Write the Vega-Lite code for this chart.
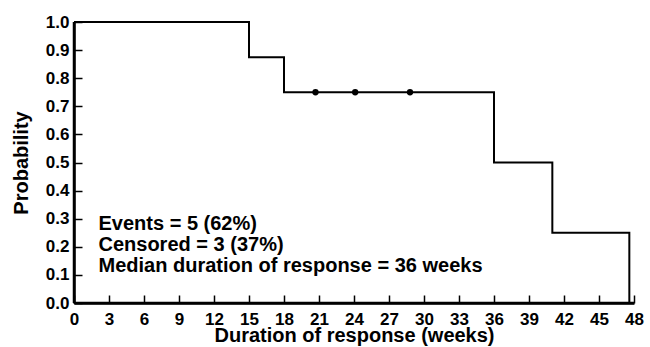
{
  "$schema": "https://vega.github.io/schema/vega-lite/v6.json",
  "width": 560,
  "height": 281,
  "autosize": {"type": "none"},
  "padding": {"left": 74, "top": 22, "right": 16, "bottom": 44},
  "background": "white",
  "config": {
    "view": {"stroke": null},
    "font": "Liberation Sans",
    "axis": {
      "grid": false,
      "domain": false,
      "ticks": true,
      "tickColor": "black",
      "tickWidth": 1.5,
      "tickSize": 8,
      "offset": -8,
      "labelColor": "black",
      "labelFont": "Liberation Sans",
      "labelFontWeight": "bold",
      "labelFontSize": 17,
      "labelOverlap": false,
      "labelFlush": false,
      "titleColor": "black",
      "titleFont": "Liberation Sans",
      "titleFontWeight": "bold",
      "titleFontSize": 20
    }
  },
  "datasets": {
    "km": [
      {"week": 0, "prob": 1.0},
      {"week": 15, "prob": 0.875},
      {"week": 18, "prob": 0.75},
      {"week": 36, "prob": 0.5},
      {"week": 41, "prob": 0.25},
      {"week": 47.6, "prob": 0.0}
    ],
    "censored": [
      {"week": 20.7, "prob": 0.75},
      {"week": 24.1, "prob": 0.75},
      {"week": 28.8, "prob": 0.75}
    ],
    "notes": [
      {"week": 2.1, "prob": 0.281, "label": "Events = 5 (62%)"},
      {"week": 2.1, "prob": 0.206, "label": "Censored = 3 (37%)"},
      {"week": 2.1, "prob": 0.131, "label": "Median duration of response = 36 weeks"}
    ],
    "frame": [
      {"x0": 0, "x1": 48, "y0": 0, "y1": 1}
    ]
  },
  "resolve": {"axis": {"x": "independent", "y": "independent"}},
  "layer": [
    {
      "data": {"name": "km"},
      "mark": {"type": "line", "interpolate": "step-after", "color": "black", "strokeWidth": 2},
      "encoding": {
        "x": {
          "field": "week", "type": "quantitative",
          "scale": {"domain": [0, 48], "nice": false, "zero": true},
          "axis": {
            "orient": "bottom",
            "domain": true,
            "domainColor": "black",
            "domainWidth": 2.5,
            "ticks": false,
            "labels": false,
            "title": null,
            "offset": 0
          }
        },
        "y": {
          "field": "prob", "type": "quantitative",
          "scale": {"domain": [0, 1], "nice": false},
          "axis": {
            "orient": "left",
            "domain": true,
            "domainColor": "black",
            "domainWidth": 2.5,
            "ticks": false,
            "labels": false,
            "title": null,
            "offset": 0
          }
        }
      }
    },
    {
      "data": {"name": "frame"},
      "mark": {"type": "rule", "color": "black", "stroke": "black", "strokeWidth": 2.5},
      "encoding": {
        "x": {"field": "x0", "type": "quantitative", "axis": null},
        "y": {"field": "y0", "type": "quantitative", "axis": null},
        "y2": {"field": "y1"}
      }
    },
    {
      "data": {"name": "frame"},
      "mark": {"type": "rule", "color": "black", "stroke": "black", "strokeWidth": 2.5},
      "encoding": {
        "x": {"field": "x0", "type": "quantitative", "axis": null},
        "x2": {"field": "x1"},
        "y": {"field": "y0", "type": "quantitative", "axis": null}
      }
    },
    {
      "data": {"name": "censored"},
      "mark": {"type": "point", "filled": true, "color": "black", "size": 40, "opacity": 1},
      "encoding": {
        "x": {
          "field": "week", "type": "quantitative",
          "axis": {
            "orient": "bottom",
            "title": "Duration of response (weeks)",
            "values": [0, 3, 6, 9, 12, 15, 18, 21, 24, 27, 30, 33, 36, 39, 42, 45, 48],
            "labelOverlap": false,
            "labelPadding": 8,
            "titlePadding": -2,
            "offset": -8
          }
        },
        "y": {
          "field": "prob", "type": "quantitative",
          "axis": {
            "orient": "left",
            "title": "Probability",
            "values": [0, 0.1, 0.2, 0.3, 0.4, 0.5, 0.6, 0.7, 0.8, 0.9, 1.0],
            "format": ".1f",
            "labelOverlap": false,
            "labelPadding": 5,
            "titlePadding": 14,
            "offset": -8
          }
        }
      }
    },
    {
      "data": {"name": "notes"},
      "mark": {"type": "text", "align": "left", "baseline": "middle", "fontSize": 20, "fontWeight": "bold", "font": "Liberation Sans", "color": "black"},
      "encoding": {
        "x": {"field": "week", "type": "quantitative", "axis": null},
        "y": {"field": "prob", "type": "quantitative", "axis": null},
        "text": {"field": "label"}
      }
    }
  ]
}
